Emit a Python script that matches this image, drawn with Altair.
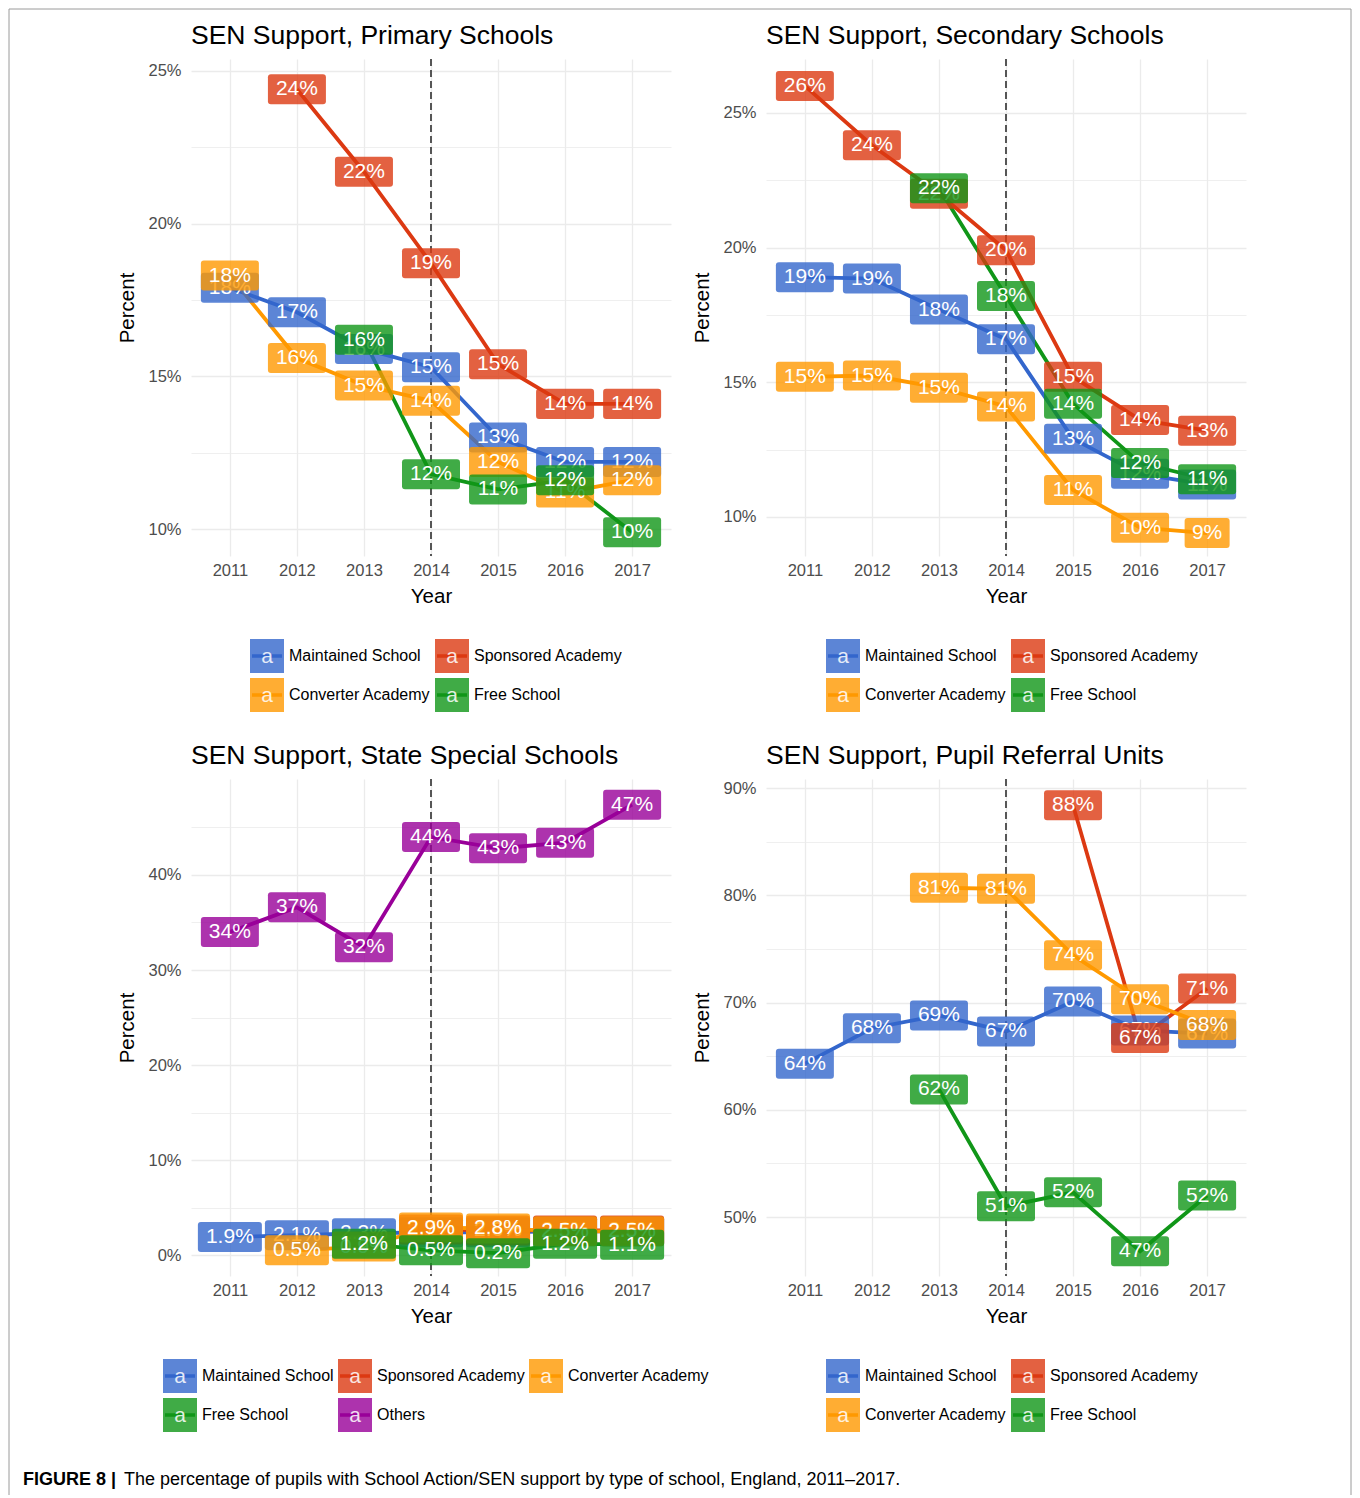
import altair as alt
import pandas as pd

FONT = "Liberation Sans"
YEARS = [2011, 2012, 2013, 2014, 2015, 2016, 2017]
SERIES = ["Maintained School", "Sponsored Academy", "Converter Academy", "Free School", "Others"]
COLORS = ["#3366CC", "#DC3912", "#FF9900", "#109618", "#990099"]

# Primary schools (%)
primary_maintained = [17.9, 17.1, 15.9, 15.3, 13.0, 12.2, 12.2]
primary_sponsored = [None, 24.4, 21.7, 18.7, 15.4, 14.1, 14.1]
primary_converter = [18.3, 15.6, 14.7, 14.2, 12.2, 11.2, 11.6]
primary_free = [None, None, 16.2, 11.8, 11.3, 11.6, 9.9]

# Secondary schools (%)
secondary_maintained = [18.9, 18.85, 17.7, 16.6, 12.9, 11.6, 11.2]
secondary_sponsored = [26.0, 23.8, 22.0, 19.9, 15.2, 13.6, 13.2]
secondary_converter = [15.2, 15.25, 14.8, 14.1, 11.0, 9.6, 9.4]
secondary_free = [None, None, 22.2, 18.2, 14.2, 12.0, 11.4]

# State special schools (%)
special_maintained = [1.9, 2.1, 2.3, 2.4, 2.4, 2.5, 2.5]
special_sponsored = [None, None, None, 2.7, 2.6, 2.6, 2.6]
special_converter = [None, 0.5, 0.9, 2.9, 2.8, 2.5, 2.5]
special_free = [None, None, 1.2, 0.5, 0.2, 1.2, 1.1]
special_others = [34.0, 36.6, 32.4, 44.0, 42.8, 43.4, 47.4]

# Pupil referral units (%)
pru_maintained = [64.3, 67.6, 68.8, 67.3, 70.1, 67.4, 67.1]
pru_sponsored = [None, None, None, None, 88.4, 66.7, 71.3]
pru_converter = [None, None, 80.7, 80.6, 74.4, 70.3, 67.9]
pru_free = [None, None, 61.9, 51.0, 52.3, 46.8, 52.0]

TITLES = ["SEN Support, Primary Schools", "SEN Support, Secondary Schools",
          "SEN Support, State Special Schools", "SEN Support, Pupil Referral Units"]
CAPTION_BOLD = "FIGURE 8 |"
CAPTION_TEXT = "The percentage of pupils with School Action/SEN support by type of school, England, 2011\u20132017."

XDOMAIN = [2010.42, 2017.58]
PW, PH = 480, 497


def fmt(v):
    return f"{v:.1f}%" if v < 5 else f"{int(round(v))}%"


def box_path(w, h=30.0, r=3.0):
    u = 32.0  # symbol size 4096 -> 32 px per path unit
    hw, hh, rr = w / 2 / u, h / 2 / u, r / u
    f = lambda a: f"{a:.4f}"
    return (f"M{f(-hw+rr)},{f(-hh)}H{f(hw-rr)}Q{f(hw)},{f(-hh)} {f(hw)},{f(-hh+rr)}"
            f"V{f(hh-rr)}Q{f(hw)},{f(hh)} {f(hw-rr)},{f(hh)}H{f(-hw+rr)}"
            f"Q{f(-hw)},{f(hh)} {f(-hw)},{f(hh-rr)}V{f(-hh+rr)}Q{f(-hw)},{f(-hh)} {f(-hw+rr)},{f(-hh)}Z")


BOX_CLASSES = ["2", "3", "4"]
BOX_PATHS = [box_path(45), box_path(58), box_path(64)]
ONE = pd.DataFrame({"k": [0]})


def legend_layers(names, cols, col_x):
    out = []
    for i, n in enumerate(names):
        c = COLORS[SERIES.index(n)]
        kx = col_x[i % cols] + 17
        ky = 597 + 39 * (i // cols)
        out.append(alt.Chart(ONE).mark_point(shape="square", size=1156, filled=True, opacity=0.8,
                                             color=c, strokeWidth=0).encode(
            x=alt.value(kx), y=alt.value(ky)))
        out.append(alt.Chart(ONE).mark_rule(color=c, strokeWidth=3.5).encode(
            x=alt.value(kx - 15), x2=alt.value(kx + 15), y=alt.value(ky)))
        out.append(alt.Chart(ONE).mark_text(text="a", color="white", opacity=0.85, fontSize=21,
                                            font=FONT, baseline="middle", align="center").encode(
            x=alt.value(kx), y=alt.value(ky + 1)))
        out.append(alt.Chart(ONE).mark_text(text=n, color="black", fontSize=16, font=FONT,
                                            baseline="middle", align="left").encode(
            x=alt.value(kx + 22), y=alt.value(ky)))
    return out


def panel(title, names, values, ydomain, yvalues, major, cols, col_x, extra=None):
    rows = []
    for n, vals in zip(names, values):
        for yr, v in zip(YEARS, vals):
            if v is None:
                continue
            lab = fmt(v)
            rows.append(dict(series=n, year=yr, value=v, label=lab, wclass=str(len(lab))))
    df = pd.DataFrame(rows)
    colors = [COLORS[SERIES.index(n)] for n in names]
    xenc = alt.X("year:Q", scale=alt.Scale(domain=XDOMAIN, nice=False, zero=False),
                 axis=alt.Axis(values=YEARS, format="d", title="Year", gridWidth=1.3))
    yenc = alt.Y("value:Q", scale=alt.Scale(domain=ydomain, nice=False, zero=False),
                 axis=alt.Axis(values=yvalues, title="Percent",
                               labelExpr=f"datum.value % {major} == 0 ? datum.value + '%' : ''",
                               gridWidth={"condition": {"test": f"datum.value % {major} == 0", "value": 1.3},
                                          "value": 0.8}))
    fill = alt.Fill("series:N", scale=alt.Scale(domain=names, range=colors), legend=None)
    shape = alt.Shape("wclass:N", scale=alt.Scale(domain=BOX_CLASSES, range=BOX_PATHS), legend=None)
    base = alt.Chart(df)
    layers = []
    if extra:
        layers += extra
    layers.append(base.mark_line(strokeWidth=3.8).encode(
        x=xenc, y=yenc,
        color=alt.Color("series:N", scale=alt.Scale(domain=names, range=colors), legend=None)))
    layers.append(base.transform_filter(alt.datum.year == 2014).mark_rule(
        strokeDash=[7, 4], color="#555555", strokeWidth=1.5).encode(x=xenc))
    for n in names:
        sub = base.transform_filter(alt.datum.series == n)
        layers.append(sub.mark_point(filled=True, opacity=0.8, size=4096, strokeWidth=0).encode(
            x=xenc, y=yenc, fill=fill, shape=shape))
        layers.append(sub.mark_text(color="white", fontSize=21, font=FONT, baseline="middle",
                                    align="center").encode(x=xenc, y=yenc, text="label:N"))
    layers.append(alt.Chart(ONE).mark_text(text=title, fontSize=26.5, font=FONT, color="black",
                                           align="left", baseline="alphabetic").encode(
        x=alt.value(0), y=alt.value(-15)))
    layers += legend_layers(names, cols, col_x)
    return alt.layer(*layers).properties(width=PW, height=PH)


four = SERIES[:4]
p1 = panel(TITLES[0], four,
           [primary_maintained, primary_sponsored, primary_converter, primary_free],
           [9.12, 25.39], [10, 12.5, 15, 17.5, 20, 22.5, 25], 5, 2, [59, 244])
p2 = panel(TITLES[1], four,
           [secondary_maintained, secondary_sponsored, secondary_converter, secondary_free],
           [8.55, 27.0], [10, 12.5, 15, 17.5, 20, 22.5, 25], 5, 2, [60, 245])

cap_df = pd.DataFrame({"bold": [CAPTION_BOLD], "text": [CAPTION_TEXT]})
frame_style = dict(color="#9A9A9A", strokeWidth=1)
border_left = alt.Chart(cap_df).mark_rule(**frame_style).encode(
    x=alt.value(-182), y=alt.value(-770), y2=alt.value(716))
border_right = alt.Chart(cap_df).mark_rule(**frame_style).encode(
    x=alt.value(1160), y=alt.value(-770), y2=alt.value(716))
border_top = alt.Chart(cap_df).mark_rule(**frame_style).encode(
    x=alt.value(-182), x2=alt.value(1160), y=alt.value(-770))
cap1 = alt.Chart(cap_df).mark_text(align="left", baseline="alphabetic", fontSize=18, font=FONT,
                                   fontWeight="bold", color="black").encode(
    x=alt.value(-168), y=alt.value(706), text="bold:N")
cap2 = alt.Chart(cap_df).mark_text(align="left", baseline="alphabetic", fontSize=18, font=FONT,
                                   color="black").encode(
    x=alt.value(-67), y=alt.value(706), text="text:N")

p3 = panel(TITLES[2], SERIES,
           [special_maintained, special_sponsored, special_converter, special_free, special_others],
           [-2.2, 50.1], [0, 5, 10, 15, 20, 25, 30, 35, 40, 45], 10, 3, [-28, 147, 338],
           extra=[border_left, border_right, border_top, cap1, cap2])
p4 = panel(TITLES[3], four,
           [pru_maintained, pru_sponsored, pru_converter, pru_free],
           [44.5, 90.84], [50, 55, 60, 65, 70, 75, 80, 85, 90], 10, 2, [60, 245])

chart = alt.concat(p1, p2, p3, p4, columns=2, spacing=alt.RowColnumber(row=223, column=95),
                   bounds="flush").resolve_scale(
    color="independent", fill="independent", shape="independent", x="independent", y="independent"
).properties(padding=0).configure_view(stroke=None).configure_axis(
    domain=False, ticks=False, gridColor="#EBEBEB", labelColor="#4D4D4D", labelFontSize=16.5,
    labelFont=FONT, titleFont=FONT, titleFontSize=20.5, titleFontWeight="normal", titleColor="black"
).configure_axisX(labelPadding=6, titlePadding=8).configure_axisY(labelPadding=10, titlePadding=10)

chart.save("out.html", embed_options={"renderer": "svg", "actions": False})
